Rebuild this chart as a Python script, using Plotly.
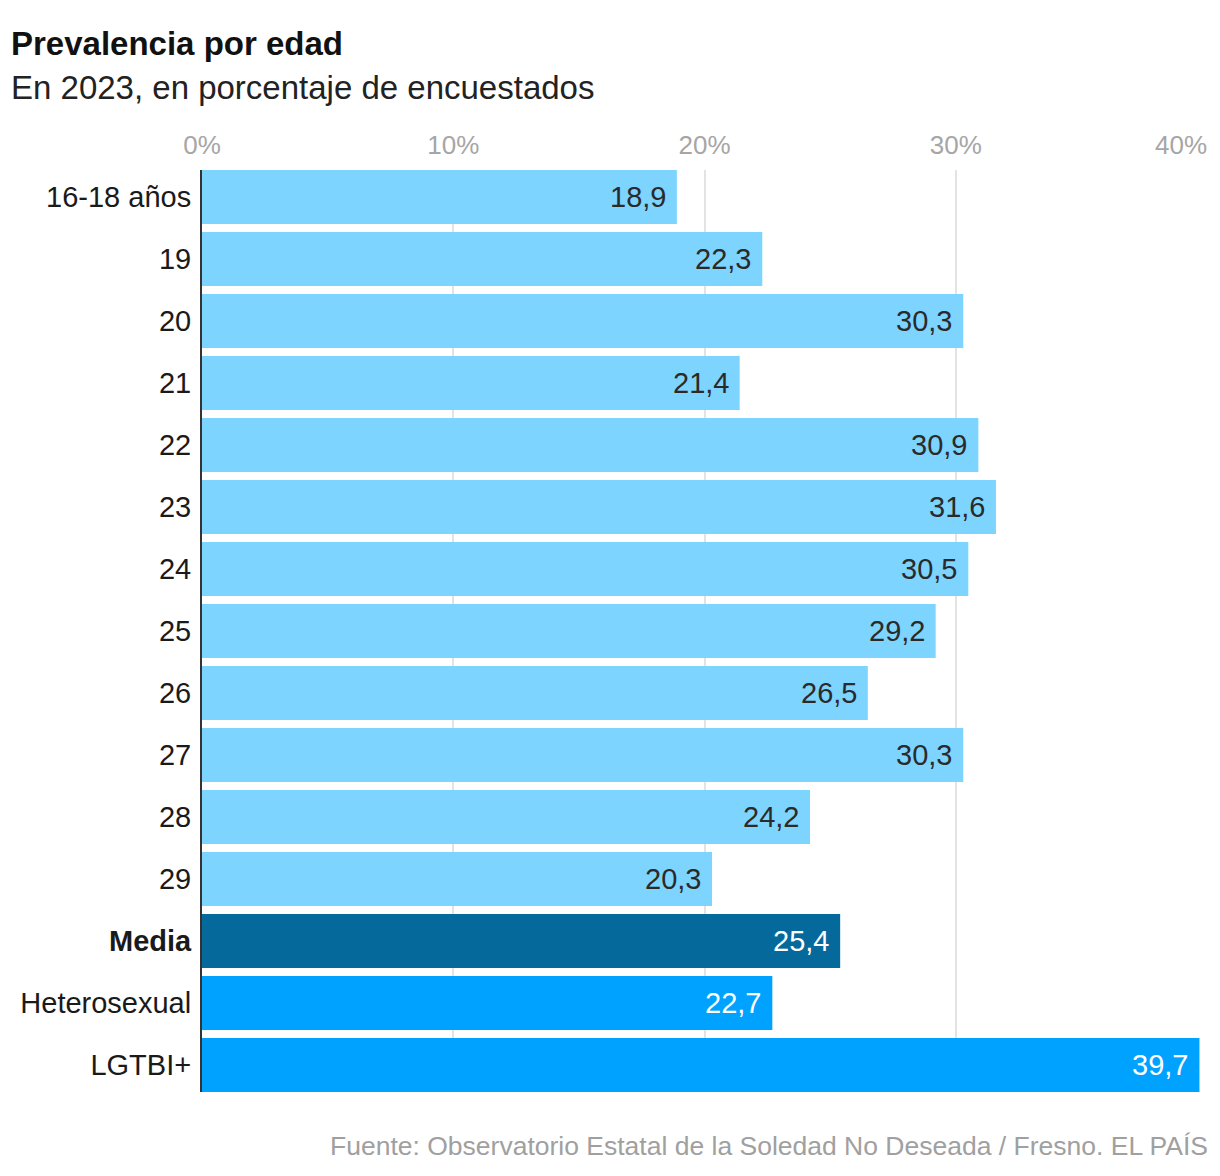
import plotly.graph_objects as go

categories = ["16-18 años", "19", "20", "21", "22", "23", "24", "25", "26", "27", "28", "29",
              "Media", "Heterosexual", "LGTBI+"]
values = [18.9, 22.3, 30.3, 21.4, 30.9, 31.6, 30.5, 29.2, 26.5, 30.3, 24.2, 20.3, 25.4, 22.7, 39.7]
groups = ["edad"] * 12 + ["media", "orientacion", "orientacion"]
tick_values = [0, 10, 20, 30, 40]
tick_labels = ["0%", "10%", "20%", "30%", "40%"]

color_map = {"edad": "#7dd4ff", "media": "#05699b", "orientacion": "#00a2ff"}
text_color_map = {"edad": "#2a2a2a", "media": "#ffffff", "orientacion": "#ffffff"}

FONT = "Liberation Sans"
OFF = 8  # page body margin
W, H = 1220 - OFF, 1176 - OFF
L, R, T, B = 202 - OFF, 12, 170 - OFF, 84
pw, ph = W - L - R, H - T - B

fig = go.Figure()
fig.add_trace(go.Bar(
    x=values, y=list(range(len(categories))), orientation="h",
    marker=dict(color=[color_map[g] for g in groups], line=dict(width=0)),
    width=54 / 62, hoverinfo="skip",
))

annotations = []
for i, (v, g) in enumerate(zip(values, groups)):
    annotations.append(dict(
        x=v, y=i, xref="x", yref="y", text=f"{v:.1f}".replace(".", ","),
        showarrow=False, xanchor="right", yanchor="middle", xshift=-9,
        font=dict(family=FONT, size=29, color=text_color_map[g]),
    ))

def px(xpix):
    return (xpix - OFF - L) / pw

def py(ypix):
    return (H - B - (ypix - OFF)) / ph

annotations += [
    dict(x=px(9), y=py(43), xref="paper", yref="paper", text="<b>Prevalencia por edad</b>",
         showarrow=False, xanchor="left", yanchor="middle",
         font=dict(family=FONT, size=33, color="#111111")),
    dict(x=px(9), y=py(87), xref="paper", yref="paper", text="En 2023, en porcentaje de encuestados",
         showarrow=False, xanchor="left", yanchor="middle",
         font=dict(family=FONT, size=33, color="#222222")),
    dict(x=px(1210), y=py(1146), xref="paper", yref="paper",
         text="Fuente: Observatorio Estatal de la Soledad No Deseada / Fresno. EL PAÍS",
         showarrow=False, xanchor="right", yanchor="middle",
         font=dict(family=FONT, size=26.5, color="#a0a0a0")),
    dict(x=tick_values[-1], y=py(145), xref="x", yref="paper", text=tick_labels[-1],
         showarrow=False, xanchor="right", yanchor="middle", xshift=2,
         font=dict(family=FONT, size=26, color="#a6a6a6")),
]

ticktext_y = [f"<b>{c}</b>" if g == "media" else c for c, g in zip(categories, groups)]

fig.update_layout(
    width=W, height=H,
    margin=dict(l=L, r=R, t=T, b=B, pad=0, autoexpand=False),
    paper_bgcolor="white", plot_bgcolor="white",
    showlegend=False,
    annotations=annotations,
    xaxis=dict(
        range=[0, 40.04], side="top", tickvals=tick_values,
        ticktext=tick_labels[:-1] + [""],
        tickfont=dict(family=FONT, size=26, color="#a6a6a6"),
        showgrid=True, gridcolor="#e3e3e3", gridwidth=1.5,
        zeroline=False, showline=False,
        ticks="outside", ticklen=5, tickcolor="rgba(0,0,0,0)",
        fixedrange=True, automargin=False,
    ),
    yaxis=dict(
        range=[len(categories) - 1 + 27 / 62, -27 / 62],
        tickvals=list(range(len(categories))), ticktext=ticktext_y,
        tickfont=dict(family=FONT, size=29, color="#1a1a1a"),
        showgrid=False, zeroline=False,
        showline=True, linecolor="#333333", linewidth=2,
        ticks="outside", ticklen=3, tickcolor="rgba(0,0,0,0)",
        fixedrange=True, automargin=False,
    ),
)

fig.write_html("out.html")
